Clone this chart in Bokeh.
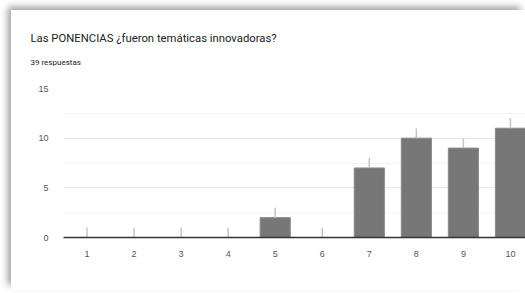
from bokeh.plotting import figure
from bokeh.models import Range1d, FixedTicker, Title, ColumnDataSource
from bokeh.embed import file_html
from bokeh.resources import INLINE

categories = [1, 2, 3, 4, 5, 6, 7, 8, 9, 10]
counts = [0, 0, 0, 0, 2, 0, 7, 10, 9, 11]
y_ticks = [0, 5, 10, 15]
y_minor = [2.5, 7.5, 12.5]
title_text = "Las PONENCIAS ¿fueron temáticas innovadoras?"
subtitle_text = "39 respuestas"

src = ColumnDataSource(dict(x=categories, top=counts, top1=[c + 1 for c in counts]))

p = figure(width=514, height=280, output_backend="svg", toolbar_location=None,
           title_location=None,
           x_range=Range1d(0.5, 10.32), y_range=Range1d(0, 15),
           min_border_left=52, min_border_right=0, min_border_top=78, min_border_bottom=53)
p.margin = (10, 0, 0, 11)
p.styles = {"box-shadow": "-4px -4px 7px -1px rgba(0,0,0,0.4)",
            "clip-path": "inset(-15px 0px -15px -15px)"}
p.background_fill_color = "white"
p.border_fill_color = "white"
p.outline_line_color = None

p.vbar(x="x", top="top", width=0.64, source=src, fill_color="#777777", line_color="#8a8a8a", line_width=1)
p.segment(x0="x", y0="top", x1="x", y1="top1", source=src, line_color="#c4c4c4", line_width=1.5)

# axes
p.xaxis.ticker = FixedTicker(ticks=categories)
p.xaxis.axis_line_color = "#333333"
p.xaxis.axis_line_width = 1.5
p.xaxis.major_tick_line_color = None
p.xaxis.minor_tick_line_color = None
p.xaxis.major_label_text_font = "Liberation Sans"
p.xaxis.major_label_text_font_size = "9px"
p.xaxis.major_label_text_color = "#555555"
p.xaxis.major_label_standoff = 7

p.yaxis.ticker = FixedTicker(ticks=y_ticks, minor_ticks=y_minor)
p.yaxis.axis_line_color = None
p.yaxis.major_tick_line_color = None
p.yaxis.minor_tick_line_color = None
p.yaxis.major_label_text_font = "Liberation Sans"
p.yaxis.major_label_text_font_size = "9px"
p.yaxis.major_label_text_color = "#555555"
p.yaxis.major_label_standoff = 9

p.xgrid.grid_line_color = None
p.ygrid.grid_line_color = "#e6e6e6"
p.ygrid.minor_grid_line_color = "#f4f4f4"

# spacer between the subtitle and the plot area
p.add_layout(Title(text="\u00a0", standoff=3, text_font="Roboto", text_font_size="8px",
                   text_color="white"), "above")
p.add_layout(Title(text=subtitle_text, align="left", offset=-33, standoff=15,
                   text_font="Roboto", text_font_size="8px", text_font_style="normal",
                   text_color="#202124"), "above")
p.add_layout(Title(text=title_text, align="left", offset=-33, standoff=8,
                   text_font="Roboto", text_font_size="11.3px", text_font_style="normal",
                   text_color="#202124"), "above")

open("out.html", "w").write(file_html(p, INLINE))
